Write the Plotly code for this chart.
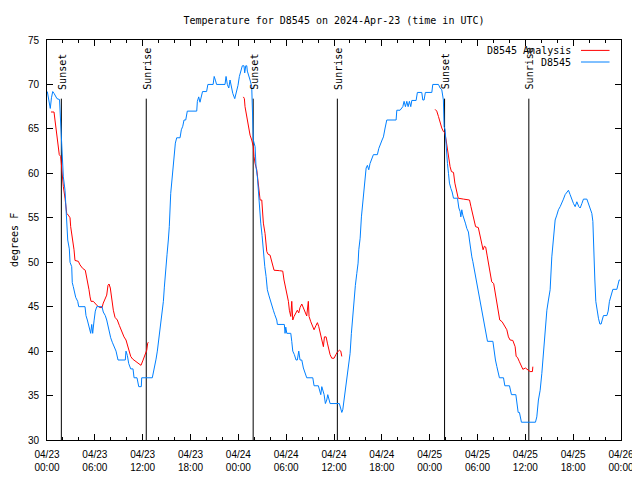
import pandas as pd
import plotly.graph_objects as go

# ---------------- data (hours after 2024-04-23 00:00 UTC, degrees F) ----------------
obs_hours = [
    0.04, 0.25, 0.41, 0.56, 0.72, 0.88, 1.09, 1.25, 1.57, 1.72,
    1.82, 1.91, 1.97, 2.05, 2.26, 2.38, 2.47, 2.60, 2.80, 2.89,
    3.10, 3.17, 3.30, 3.43, 3.60, 3.85, 3.98, 4.77, 4.89, 5.06,
    5.31, 5.48, 5.61, 5.73, 5.90, 6.06, 6.24, 6.90, 7.06, 7.31,
    7.49, 7.62, 7.82, 7.99, 8.19, 8.41, 8.66, 8.91, 9.82, 9.91,
    10.08, 10.25, 10.50, 10.79, 10.92, 11.29, 11.42, 11.51, 11.83, 11.88,
    13.21, 13.34, 13.51, 13.68, 13.84, 14.05, 14.27, 14.43, 14.60, 14.72,
    14.89, 15.06, 15.22, 15.34, 15.52, 15.68, 15.85, 15.97, 16.10, 16.27,
    16.69, 16.85, 17.03, 17.19, 17.40, 17.60, 18.78, 18.86, 19.03, 19.19,
    19.35, 19.51, 20.02, 20.18, 20.84, 20.97, 21.15, 21.27, 22.33, 22.46,
    22.62, 22.80, 22.96, 23.12, 23.30, 23.55, 23.80, 23.96, 24.13, 24.37,
    24.50, 24.71, 24.80, 24.93, 25.06, 25.13, 25.28, 25.47, 25.68, 25.76,
    25.88, 26.10, 26.22, 26.39, 26.51, 26.64, 26.81, 26.98, 27.14, 27.32,
    27.48, 27.64, 27.82, 27.98, 28.19, 28.39, 28.57, 28.82, 28.90, 29.77,
    29.86, 29.95, 30.08, 30.58, 30.70, 30.83, 31.03, 31.24, 31.40, 31.58,
    31.74, 31.96, 32.16, 32.37, 32.58, 33.34, 33.50, 34.04, 34.17, 34.34,
    34.47, 34.59, 34.76, 34.92, 35.09, 35.22, 35.34, 35.51, 36.67, 36.85,
    36.98, 37.10, 37.27, 37.39, 37.52, 37.68, 37.85, 38.02, 38.18, 38.36,
    38.52, 38.68, 38.86, 39.02, 39.11, 39.28, 39.44, 39.62, 39.78, 39.91,
    40.03, 40.19, 40.36, 40.52, 40.73, 40.94, 41.44, 41.62, 42.03, 42.20,
    42.41, 42.62, 43.79, 43.88, 44.29, 44.63, 44.79, 44.96, 45.13, 45.30,
    45.46, 45.63, 45.76, 46.30, 46.46, 47.01, 47.14, 47.30, 47.46, 48.27,
    48.39, 49.10, 49.31, 49.52, 49.72, 49.81, 49.94, 50.06, 50.23, 50.36,
    50.48, 50.66, 50.82, 50.99, 51.49, 51.66, 51.82, 51.91, 52.03, 52.16,
    52.32, 52.48, 52.66, 52.86, 52.99, 53.11, 53.29, 53.41, 53.61, 53.79,
    53.95, 54.12, 54.29, 54.46, 54.62, 54.83, 55.00, 55.25, 55.93, 56.09,
    56.25, 56.43, 56.63, 56.75, 57.26, 57.43, 58.01, 58.26, 58.81, 58.93,
    59.10, 59.26, 59.51, 61.27, 61.44, 61.64, 61.86, 62.07, 62.27, 62.48,
    62.70, 62.90, 63.11, 63.32, 63.53, 63.66, 63.74, 63.95, 64.15, 64.37,
    64.58, 64.78, 64.99, 65.21, 65.41, 65.62, 65.83, 66.04, 66.25, 66.46,
    66.71, 66.88, 67.09, 67.29, 67.72, 67.92, 68.13, 68.34, 68.47, 68.54,
    68.72, 68.84, 68.97, 69.17, 69.35, 69.51, 69.64, 69.80, 70.23, 70.39,
    70.55, 70.73, 70.98, 71.48, 71.61, 71.77, 71.89,
]
obs_temps = [
    69.2, 68.0, 67.3, 68.5, 69.2, 69.0, 68.6, 68.4, 68.3, 66.0,
    64.0, 62.0, 61.5, 59.6, 58.1, 55.5, 53.6, 52.5, 51.5, 50.0,
    49.5, 47.7, 47.25, 46.6, 46.05, 45.6, 45.0, 45.0, 44.0, 43.5,
    42.5, 42.0, 43.0, 42.0, 43.4, 44.5, 45.0, 45.0, 44.4, 44.0,
    43.5, 43.0, 42.0, 41.5, 41.0, 40.5, 40.0, 39.0, 39.0, 40.0,
    39.5, 38.6, 38.0, 38.0, 37.0, 37.0, 36.2, 36.0, 36.0, 37.0,
    37.0, 37.5, 38.2, 39.1, 40.0, 41.6, 43.1, 44.2, 45.6, 47.2,
    49.5, 50.9, 52.5, 54.0, 57.75, 59.25, 60.75, 62.25, 63.4, 64.0,
    64.0, 64.9, 65.3, 66.0, 66.0, 67.0, 67.0, 68.1, 68.6, 68.0,
    68.6, 69.2, 69.2, 70.0, 70.0, 70.9, 70.4, 70.0, 70.0, 70.9,
    70.0, 69.6, 70.5, 69.8, 69.0, 68.4, 69.2, 69.9, 70.9, 71.6,
    72.1, 72.1, 71.3, 72.1, 72.1, 71.5, 70.9, 70.5, 69.75, 65.6,
    63.75, 63.0, 60.75, 59.6, 57.75, 55.9, 54.4, 53.0, 50.8, 49.5,
    48.4, 46.9, 46.3, 45.75, 45.2, 44.6, 44.1, 43.5, 43.0, 43.0,
    42.0, 42.7, 42.0, 42.0, 41.1, 40.0, 39.6, 39.0, 39.0, 40.0,
    39.0, 39.0, 38.1, 37.5, 37.0, 37.0, 36.1, 36.1, 35.6, 35.1,
    36.0, 35.6, 35.1, 34.1, 34.5, 35.1, 34.5, 34.1, 34.1, 33.6,
    33.1, 33.4, 34.5, 35.25, 36.4, 37.5, 38.6, 39.75, 42.0, 44.1,
    45.6, 47.4, 48.75, 49.9, 51.4, 52.7, 55.1, 57.0, 58.5, 59.6,
    60.6, 60.9, 60.4, 61.1, 61.7, 62.1, 62.1, 62.8, 63.75, 64.1,
    65.1, 66.0, 66.0, 67.1, 67.1, 67.5, 68.1, 67.5, 68.1, 67.5,
    68.1, 67.5, 68.2, 68.2, 69.1, 69.1, 68.25, 68.25, 69.1, 69.1,
    70.0, 70.0, 69.6, 69.4, 68.25, 65.25, 64.9, 62.6, 61.1, 60.0,
    58.9, 58.3, 57.9, 57.2, 57.2, 56.1, 55.7, 55.1, 55.9, 55.3,
    54.9, 54.4, 53.8, 53.4, 52.5, 51.4, 50.6, 50.1, 49.1, 48.0,
    47.4, 46.5, 45.6, 44.6, 43.95, 42.9, 42.0, 41.1, 41.1, 39.75,
    39.0, 38.25, 37.5, 37.0, 37.0, 36.1, 36.1, 35.1, 35.1, 34.05,
    33.1, 33.1, 32.0, 32.0, 32.6, 34.5, 35.6, 37.5, 39.75, 42.0,
    44.6, 45.75, 46.9, 50.6, 52.5, 53.6, 54.75, 55.3, 55.9, 56.25,
    56.6, 57.1, 57.6, 57.9, 58.1, 57.6, 57.0, 56.6, 56.25, 56.8,
    56.25, 56.1, 56.6, 57.1, 57.1, 56.6, 56.1, 55.5, 54.6, 52.1,
    48.0, 45.6, 44.6, 43.7, 43.05, 43.05, 43.5, 44.0, 44.0, 44.5,
    45.6, 46.1, 46.95, 46.95, 47.4, 48.0, 48.0,
]

analysis1_hours = [
    0.50, 0.88, 1.00, 1.13, 1.29, 1.42, 1.54, 1.72, 1.88, 2.05,
    2.26, 2.47, 2.67, 2.89, 2.97, 3.10, 3.22, 3.39, 3.51, 3.93,
    4.14, 4.48, 4.80, 4.98, 5.11, 5.27, 5.40, 5.52, 5.81, 6.02,
    6.31, 6.65, 6.90, 7.06, 7.31, 7.49, 7.65, 7.78, 7.94, 8.12,
    8.32, 8.53, 8.82, 9.07, 9.37, 9.66, 9.91, 10.08, 10.33, 10.50,
    10.75, 11.25, 11.58, 11.79, 12.01, 12.30, 12.51, 12.63, 12.71,
]
analysis1_temps = [
    66.9, 66.9, 66.0, 64.9, 63.75, 63.0, 62.1, 61.9, 60.0, 58.5,
    57.2, 55.5, 55.3, 55.0, 54.0, 53.25, 52.5, 51.4, 50.2, 50.1,
    49.7, 49.3, 49.1, 48.4, 47.6, 46.9, 46.1, 45.6, 45.6, 45.4,
    45.1, 44.9, 44.9, 45.4, 45.9, 46.3, 47.4, 47.55, 47.1, 45.9,
    44.6, 43.8, 43.5, 42.9, 42.2, 41.6, 41.25, 40.7, 39.9, 39.4,
    39.1, 38.8, 38.6, 38.4, 38.9, 39.6, 40.1, 40.9, 41.0,
]
analysis2_hours = [
    24.63, 24.76, 24.84, 25.06, 25.26, 25.47, 25.68, 25.88, 25.97, 26.10,
    26.31, 26.39, 26.51, 26.73, 26.94, 27.01, 27.14, 27.35, 27.44, 27.57,
    27.73, 27.98, 28.14, 28.32, 28.48, 29.15, 29.57, 29.73, 29.90, 30.08,
    30.28, 30.40, 30.58, 30.70, 30.83, 30.99, 31.24, 31.40, 31.58, 31.74,
    31.96, 32.16, 32.33, 32.58, 32.78, 32.87, 33.09, 33.29, 33.50, 33.75,
    33.92, 34.09, 34.26, 34.47, 34.67, 34.80, 35.01, 35.17, 35.34, 35.51,
    35.72, 36.01, 36.23, 36.43, 36.68, 36.85, 36.98,
]
analysis2_temps = [
    68.6, 68.4, 67.5, 66.4, 65.25, 64.3, 63.75, 63.0, 61.9, 61.1,
    60.4, 59.6, 58.8, 57.0, 57.0, 55.5, 54.4, 53.25, 52.5, 51.2,
    50.9, 50.8, 50.25, 49.7, 49.1, 49.05, 49.0, 48.0, 47.25, 46.5,
    45.6, 44.6, 43.9, 45.6, 43.5, 43.9, 44.25, 44.6, 44.3, 44.9,
    45.3, 44.8, 44.4, 43.95, 45.6, 43.9, 43.3, 42.75, 42.4, 42.9,
    43.2, 42.75, 42.0, 41.1, 40.5, 41.6, 41.6, 40.9, 40.3, 39.6,
    39.2, 39.2, 39.6, 39.9, 40.1, 40.0, 39.4,
]
analysis3_hours = [
    48.68, 48.89, 49.10, 49.31, 49.52, 49.72, 49.90, 50.06, 50.23, 50.40,
    50.56, 50.73, 50.99, 51.16, 51.33, 51.58, 52.25, 53.00, 53.18, 53.35,
    53.51, 53.76, 54.10, 54.27, 54.45, 54.57, 54.70, 54.86, 55.03, 55.20,
    55.40, 55.62, 55.78, 56.03, 56.24, 56.45, 56.62, 56.79, 57.09, 57.34,
    57.68, 57.88, 58.09, 58.43, 58.72, 58.85, 59.01, 59.26, 59.43, 59.69,
    60.01, 60.37, 60.60, 60.89, 60.94,
]
analysis3_temps = [
    67.2, 67.0, 66.4, 65.6, 65.1, 64.7, 64.6, 63.75, 62.6, 61.9,
    60.75, 60.2, 60.1, 58.9, 58.1, 57.2, 57.1, 57.0, 56.25, 55.5,
    54.9, 54.0, 53.9, 53.25, 52.5, 51.9, 51.4, 51.8, 51.7, 50.8,
    49.9, 48.75, 47.8, 47.6, 46.5, 45.4, 44.25, 43.5, 43.3, 42.9,
    42.4, 41.6, 41.25, 41.2, 40.5, 39.4, 39.3, 38.8, 38.4, 37.95,
    38.1, 37.9, 37.7, 37.7, 38.25,
]

sunset_hours = [1.80, 25.86, 49.87]
sunrise_hours = [12.45, 36.42, 60.44]
sun_line_top = 68.4
sun_label_base = 69.2

tick_hours = [0, 6, 12, 18, 24, 30, 36, 42, 48, 54, 60, 66, 72]
tick_labels = [
    "04/23<br>00:00", "04/23<br>06:00", "04/23<br>12:00", "04/23<br>18:00",
    "04/24<br>00:00", "04/24<br>06:00", "04/24<br>12:00", "04/24<br>18:00",
    "04/25<br>00:00", "04/25<br>06:00", "04/25<br>12:00", "04/25<br>18:00",
    "04/26<br>00:00",
]
y_ticks = [30, 35, 40, 45, 50, 55, 60, 65, 70, 75]

# ---------------- figure ----------------
base = pd.Timestamp("2024-04-23 00:00:00")


def to_time(hours):
    return [base + pd.to_timedelta(h, unit="h") for h in hours]


MONO = "DejaVu Sans Mono"
SANS = "Liberation Sans"
RED = "#ff0000"
BLUE = "#0080ff"

# the page body adds an 8px offset; margins compensate so the plot area
# lands at x 47..621, y 40..440 of the 640x480 window
PAGE_OFFSET = 8

fig = go.Figure()

for h in sunset_hours + sunrise_hours:
    fig.add_trace(go.Scatter(
        x=to_time([h, h]), y=[30, sun_line_top], mode="lines",
        line=dict(color="black", width=1), showlegend=False, hoverinfo="skip"))

for hrs, tmp in [(analysis1_hours, analysis1_temps),
                 (analysis2_hours, analysis2_temps),
                 (analysis3_hours, analysis3_temps)]:
    fig.add_trace(go.Scatter(
        x=to_time(hrs), y=tmp, mode="lines",
        line=dict(color=RED, width=1), name="D8545 Analysis", showlegend=False))

fig.add_trace(go.Scatter(
    x=to_time(obs_hours), y=obs_temps, mode="lines",
    line=dict(color=BLUE, width=1), name="D8545", showlegend=False))

annotations = []
for label, hours in [("Sunset", sunset_hours), ("Sunrise", sunrise_hours)]:
    for h in hours:
        annotations.append(dict(x=to_time([h])[0], y=sun_label_base, xref="x", yref="y",
                                text=label, textangle=-90, showarrow=False,
                                xanchor="center", yanchor="bottom", xshift=1,
                                font=dict(family=MONO, size=10, color="black")))

# y-axis title; centre about 14px from the window's left edge
annotations.append(dict(x=-(47 - 14) / 574, y=0.5, xref="paper", yref="paper",
                        text="degrees F", textangle=-90, showarrow=False,
                        xanchor="center", yanchor="middle",
                        font=dict(family=MONO, size=10, color="black")))

legend_rows = [("D8545 Analysis", RED, 0.974), ("D8545", BLUE, 0.945)]
shapes = []
for label, color, yy in legend_rows:
    annotations.append(dict(x=0.9164, y=yy, xref="paper", yref="paper", text=label,
                            showarrow=False, xanchor="right", yanchor="middle",
                            font=dict(family=MONO, size=10, color="black")))
    shapes.append(dict(type="line", xref="paper", yref="paper",
                       x0=0.9303, x1=0.980, y0=yy, y1=yy,
                       line=dict(color=color, width=1)))

fig.update_layout(
    width=640, height=480,
    margin=dict(l=47 - PAGE_OFFSET, r=640 - 621 + PAGE_OFFSET,
                t=40 - PAGE_OFFSET, b=40 + PAGE_OFFSET),
    paper_bgcolor="white", plot_bgcolor="white",
    title=dict(text="Temperature for D8545 on 2024-Apr-23 (time in UTC)",
               x=0.5, xref="paper", xanchor="center",
               y=1 - (20 - PAGE_OFFSET) / 480, yref="container", yanchor="middle",
               font=dict(family=MONO, size=10, color="black")),
    annotations=annotations,
    shapes=shapes,
    showlegend=False,
)

fig.update_xaxes(
    type="date", automargin=False,
    range=[base, base + pd.Timedelta(hours=72)],
    tickvals=to_time(tick_hours), ticktext=tick_labels,
    ticks="inside", ticklen=6, tickcolor="black", tickwidth=1,
    ticklabelstandoff=5,
    minor=dict(dtick=2 * 3600 * 1000, tick0=base, ticks="inside", ticklen=3,
               tickcolor="black", tickwidth=1, showgrid=False),
    showline=True, linecolor="black", linewidth=1, mirror="allticks",
    showgrid=False, zeroline=False,
    tickfont=dict(family=SANS, size=10, color="black"),
)
fig.update_yaxes(
    range=[30, 75], automargin=False,
    tickvals=y_ticks, ticktext=[str(v) for v in y_ticks],
    ticks="inside", ticklen=6, tickcolor="black", tickwidth=1,
    ticklabelstandoff=5,
    showline=True, linecolor="black", linewidth=1, mirror="allticks",
    showgrid=False, zeroline=False,
    tickfont=dict(family=SANS, size=10, color="black"),
)

fig.write_html("out.html")
